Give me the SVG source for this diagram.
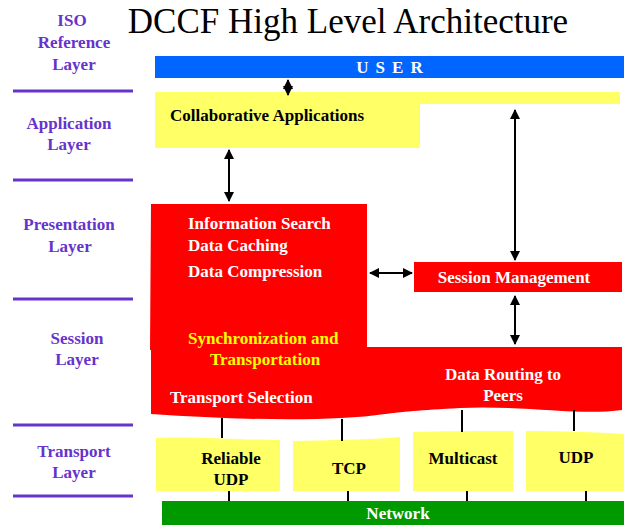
<svg xmlns="http://www.w3.org/2000/svg" width="624" height="525" viewBox="0 0 624 525">
  <style>
    .lbl { font-family: "Liberation Serif", "Times New Roman", serif; font-weight: bold; font-size: 17px; fill: #6633CC; text-anchor: middle; }
    .sep { stroke: #6633CC; stroke-width: 3; }
    .txt { font-family: "Liberation Serif", "Times New Roman", serif; font-weight: bold; font-size: 17px; }
    .w { fill: #FFFFFF; }
    .y { fill: #FFFF00; }
    .k { fill: #000000; }
    .yel { fill: #FFFF66; }
    .red { fill: #FF0000; }
    .conn { stroke: #000000; stroke-width: 2; fill: none; }
    .arr { stroke: #000000; stroke-width: 2; fill: none; marker-start: url(#ah); marker-end: url(#ah); }
  </style>
  <defs>
    <marker id="ah" viewBox="0 0 10 10" refX="9" refY="5" markerWidth="5" markerHeight="5" orient="auto-start-reverse" markerUnits="strokeWidth">
      <path d="M0,0 L10,5 L0,10 Z" fill="#000000"/>
    </marker>
  </defs>
  <rect width="624" height="525" fill="#FFFFFF"/>

  <!-- title -->
  <text x="348" y="33" font-family="Liberation Serif, Times New Roman, serif" font-size="35" text-anchor="middle" fill="#000000">DCCF High Level Architecture</text>

  <!-- ISO layer column -->
  <g id="iso-layers">
    <text class="lbl" x="72" y="26">ISO</text>
    <text class="lbl" x="74" y="48">Reference</text>
    <text class="lbl" x="74" y="70">Layer</text>
    <line class="sep" x1="13" y1="91" x2="133" y2="91"/>
    <text class="lbl" x="69" y="129">Application</text>
    <text class="lbl" x="69" y="150">Layer</text>
    <line class="sep" x1="13" y1="180" x2="133" y2="180"/>
    <text class="lbl" x="69" y="230">Presentation</text>
    <text class="lbl" x="70" y="252">Layer</text>
    <line class="sep" x1="13" y1="299" x2="133" y2="299"/>
    <text class="lbl" x="77" y="344">Session</text>
    <text class="lbl" x="77" y="365">Layer</text>
    <line class="sep" x1="13" y1="425" x2="133" y2="425"/>
    <text class="lbl" x="74" y="457">Transport</text>
    <text class="lbl" x="74" y="478">Layer</text>
    <line class="sep" x1="13" y1="496" x2="133" y2="496"/>
  </g>

  <!-- user bar -->
  <g id="user">
    <rect x="155" y="56" width="469" height="22" fill="#0066FF"/>
    <text class="txt w" x="393" y="73" text-anchor="middle" letter-spacing="7">USER</text>
  </g>

  <!-- collaborative applications -->
  <g id="collab">
    <path class="yel" d="M155,92 H620 V104 H420 V148 H155 Z"/>
    <text class="txt k" x="170" y="121" font-size="14">Collaborative Applications</text>
  </g>

  <!-- presentation + session block -->
  <g id="core">
    <path class="red" d="M151,204 H367 V347 H622 V410 C580,416 520,405 460,408 C420,410 400,412 385,414 C330,422 240,420 151,414 V350 L150,350 Z"/>
    <text class="txt w" x="188" y="229">Information Search</text>
    <text class="txt w" x="188" y="251">Data Caching</text>
    <text class="txt w" x="188" y="277">Data Compression</text>
    <text class="txt y" x="188" y="344">Synchronization and</text>
    <text class="txt y" x="210" y="365">Transportation</text>
    <text class="txt w" x="170" y="403">Transport Selection</text>
    <text class="txt w" x="503" y="380" text-anchor="middle">Data Routing to</text>
    <text class="txt w" x="503" y="401" text-anchor="middle">Peers</text>
  </g>

  <!-- session management -->
  <g id="session-mgmt">
    <rect class="red" x="414" y="262" width="208" height="30"/>
    <text class="txt w" x="514" y="283" text-anchor="middle">Session Management</text>
  </g>

  <!-- transport protocols -->
  <g id="reliable-udp">
    <path class="yel" d="M156,438 C190,436 240,440 280,440 V491 H156 Z"/>
    <text class="txt k" x="231" y="464" text-anchor="middle" font-size="16">Reliable</text>
    <text class="txt k" x="231" y="485" text-anchor="middle" font-size="16">UDP</text>
  </g>
  <g id="tcp">
    <path class="yel" d="M293,441 C330,440 370,440 400,437 V491 H293 Z"/>
    <text class="txt k" x="349" y="474" text-anchor="middle" font-size="16">TCP</text>
  </g>
  <g id="multicast">
    <path class="yel" d="M413,432 C450,431 490,431 513,431 V491 H413 Z"/>
    <text class="txt k" x="463" y="464" text-anchor="middle" font-size="16">Multicast</text>
  </g>
  <g id="udp">
    <path class="yel" d="M526,431 C560,431 595,432 624,434 V491 H526 Z"/>
    <text class="txt k" x="576" y="463" text-anchor="middle" font-size="16">UDP</text>
  </g>

  <!-- network bar -->
  <g id="network">
    <rect x="162" y="501" width="462" height="24" fill="#009900"/>
    <text class="txt w" x="398" y="519" text-anchor="middle" font-size="16">Network</text>
  </g>

  <!-- connectors -->
  <g id="connectors">
    <line class="arr" x1="288" y1="80" x2="288" y2="95"/>
    <line class="arr" x1="229" y1="150" x2="229" y2="201"/>
    <line class="arr" x1="515" y1="110" x2="515" y2="260"/>
    <line class="arr" x1="370" y1="273" x2="412" y2="273"/>
    <line class="arr" x1="515" y1="296" x2="515" y2="344"/>
    <line class="conn" x1="222" y1="418" x2="222" y2="438"/>
    <line class="conn" x1="342" y1="419" x2="342" y2="441"/>
    <line class="conn" x1="462" y1="410" x2="462" y2="432"/>
    <line class="conn" x1="574" y1="410" x2="574" y2="431"/>
    <line class="conn" x1="229" y1="491" x2="229" y2="501"/>
    <line class="conn" x1="348" y1="491" x2="348" y2="501"/>
    <line class="conn" x1="467" y1="491" x2="467" y2="501"/>
    <line class="conn" x1="586" y1="491" x2="586" y2="501"/>
  </g>
</svg>
